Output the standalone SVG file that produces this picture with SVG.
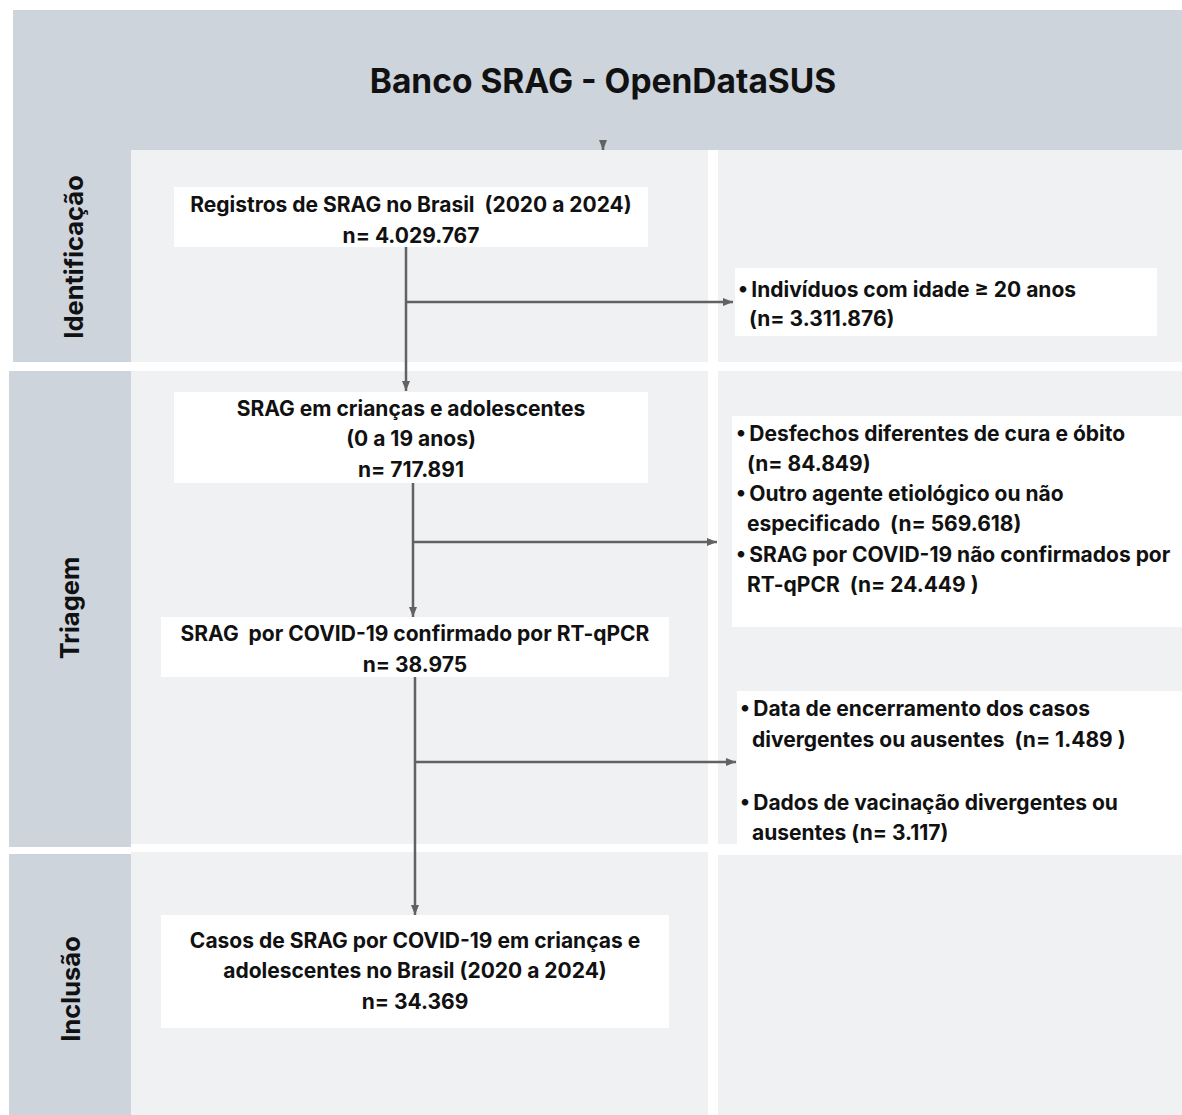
<svg xmlns="http://www.w3.org/2000/svg" width="1182" height="1115" viewBox="0 0 1182 1115">
<defs>
<style>
.lane{fill:#CDD4DC}
.panel{fill:#F0F1F3}
.box{fill:#FFFFFF}
.t{font-family:Inter,"Liberation Sans",sans-serif;font-weight:700;font-size:21px;fill:#111;white-space:pre}
.c{text-anchor:middle}
.lbl{font-family:Inter,"Liberation Sans",sans-serif;font-weight:700;font-size:25.5px;fill:#111;text-anchor:middle}
.hdr{font-family:Inter,"Liberation Sans",sans-serif;font-weight:700;font-size:33.5px;fill:#111;text-anchor:middle}
.ln{stroke:#626262;stroke-width:2.5;fill:none}
</style>
<marker id="ah" viewBox="0 0 10 8" refX="10" refY="4" markerWidth="10" markerHeight="8" markerUnits="userSpaceOnUse" orient="auto">
<path d="M0,0 L10,4 L0,8 Z" fill="#626262"/>
</marker>
</defs>
<rect width="1182" height="1115" fill="#FFFFFF"/>
<g id="lanes">
<rect class="lane" x="13" y="10" width="1169" height="140"/>
<rect class="lane" x="13" y="150" width="118" height="212"/>
<rect class="lane" x="9" y="371" width="122" height="476"/>
<rect class="lane" x="9" y="854" width="122" height="261"/>
<rect class="panel" x="131" y="150" width="577" height="212"/>
<rect class="panel" x="718" y="150" width="464" height="212"/>
<rect class="panel" x="131" y="371" width="577" height="473"/>
<rect class="panel" x="718" y="371" width="464" height="473"/>
<rect class="panel" x="131" y="852" width="577" height="263"/>
<rect class="panel" x="718" y="855" width="464" height="260"/>
<text class="hdr" x="603" y="93">Banco SRAG - OpenDataSUS</text>
<text class="lbl" transform="translate(83,257) rotate(-90)">Identificação</text>
<text class="lbl" transform="translate(79,608) rotate(-90)">Triagem</text>
<text class="lbl" transform="translate(80,989) rotate(-90)">Inclusão</text>
</g>
<g id="connectors">
<line class="ln" x1="603" y1="143" x2="603" y2="150" marker-end="url(#ah)" stroke-width="1.5"/>
<line class="ln" x1="406" y1="247" x2="406" y2="391" marker-end="url(#ah)"/>
<line class="ln" x1="406" y1="302" x2="733" y2="302" marker-end="url(#ah)"/>
<line class="ln" x1="413" y1="483" x2="413" y2="617" marker-end="url(#ah)"/>
<line class="ln" x1="413" y1="542" x2="717" y2="542" marker-end="url(#ah)"/>
<line class="ln" x1="415" y1="677" x2="415" y2="915" marker-end="url(#ah)"/>
<line class="ln" x1="415" y1="762" x2="736" y2="762" marker-end="url(#ah)"/>
</g>
<g id="n1">
<rect class="box" x="174" y="187" width="474" height="60"/>
<text class="t c" x="411" y="212" xml:space="preserve">Registros de SRAG no Brasil  (2020 a 2024)</text>
<text class="t c" x="411" y="243">n= 4.029.767</text>
</g>
<g id="n2">
<rect class="box" x="735" y="268" width="422" height="68"/>
<text class="t" x="738" y="297">•&#8201;Indivíduos com idade ≥ 20 anos</text>
<text class="t" x="749" y="326">(n= 3.311.876)</text>
</g>
<g id="n3">
<rect class="box" x="174" y="392" width="474" height="91"/>
<text class="t c" x="411" y="416">SRAG em crianças e adolescentes</text>
<text class="t c" x="411" y="446">(0 a 19 anos)</text>
<text class="t c" x="411" y="477">n= 717.891</text>
</g>
<g id="n4">
<rect class="box" x="732" y="416" width="450" height="211"/>
<text class="t" x="736" y="441">•&#8201;Desfechos diferentes de cura e óbito</text>
<text class="t" x="747" y="471">(n= 84.849)</text>
<text class="t" x="736" y="501">•&#8201;Outro agente etiológico ou não</text>
<text class="t" x="747" y="531" xml:space="preserve">especificado  (n= 569.618)</text>
<text class="t" x="736" y="562">•&#8201;SRAG por COVID-19 não confirmados por</text>
<text class="t" x="747" y="592" xml:space="preserve">RT-qPCR  (n= 24.449 )</text>
</g>
<g id="n5">
<rect class="box" x="161" y="617" width="508" height="60"/>
<text class="t c" x="415" y="641" xml:space="preserve">SRAG  por COVID-19 confirmado por RT-qPCR</text>
<text class="t c" x="415" y="672">n= 38.975</text>
</g>
<g id="n6">
<rect class="box" x="737" y="691" width="445" height="153"/>
<text class="t" x="740" y="716">•&#8201;Data de encerramento dos casos</text>
<text class="t" x="752" y="747" xml:space="preserve">divergentes ou ausentes  (n= 1.489 )</text>
<text class="t" x="740" y="810">•&#8201;Dados de vacinação divergentes ou</text>
<text class="t" x="752" y="840">ausentes (n= 3.117)</text>
</g>
<g id="n7">
<rect class="box" x="161" y="915" width="508" height="113"/>
<text class="t c" x="415" y="948">Casos de SRAG por COVID-19 em crianças e</text>
<text class="t c" x="415" y="978">adolescentes no Brasil (2020 a 2024)</text>
<text class="t c" x="415" y="1009">n= 34.369</text>
</g>
</svg>
